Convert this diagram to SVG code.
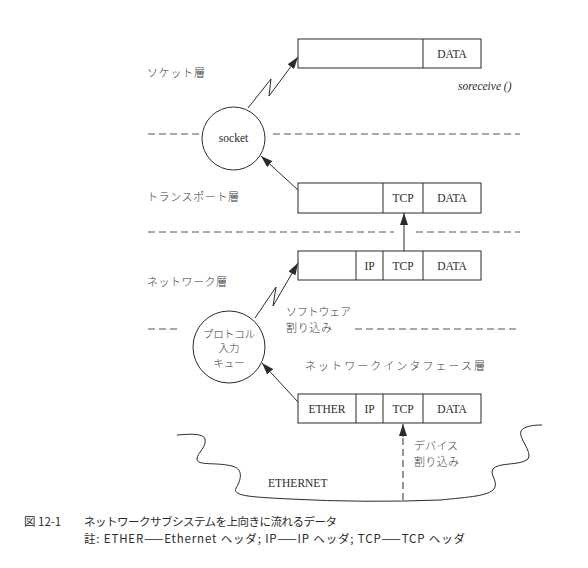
<svg xmlns="http://www.w3.org/2000/svg" width="588" height="568" viewBox="0 0 588 568">
<style>
.bx{fill:#fff;stroke:#2b2b2b;stroke-width:1}
.dv{stroke:#2b2b2b;stroke-width:1}
.cir{fill:#fff;stroke:#2b2b2b;stroke-width:1}
.ser{font-family:"Liberation Serif","DejaVu Serif",serif;font-size:11.5px;fill:#2b2b2b}
.mid{text-anchor:middle}
.jp{font-family:"Noto Sans CJK JP","Noto Sans",sans-serif;font-size:11px;fill:#3a3a3a;font-weight:300}
.jps{font-family:"Noto Sans CJK JP","Noto Sans",sans-serif;font-size:10.5px;fill:#3a3a3a;font-weight:300}
.cap{font-family:"Noto Sans CJK JP","Liberation Sans",sans-serif;font-size:11.5px;fill:#2b2b2b}
.dash{stroke:#555;stroke-width:1;stroke-dasharray:7 4;fill:none}
.ln{stroke:#2b2b2b;stroke-width:1;fill:none}
</style>
<defs>
<marker id="ah" viewBox="0 0 12 8" refX="12" refY="4" markerWidth="12" markerHeight="8" markerUnits="userSpaceOnUse" orient="auto">
<path d="M0,0 L12,4 L0,8 z" fill="#2b2b2b"/>
</marker>
</defs>
<rect width="588" height="568" fill="#fff"/>

<g id="layer-lines">
<line class="dash" x1="148" y1="134" x2="199" y2="134"/>
<line class="dash" x1="273" y1="134" x2="520" y2="134"/>
<line class="dash" x1="148" y1="232" x2="394" y2="232"/>
<line class="dash" x1="416" y1="232" x2="520" y2="232"/>
<line class="dash" x1="148" y1="329" x2="178" y2="329"/>
<line class="dash" x1="355" y1="329" x2="518" y2="329"/>
</g>

<g id="labels">
<text class="jp" x="147" y="77" textLength="58" lengthAdjust="spacing">ソケット層</text>
<text class="jp" x="147" y="201" textLength="92" lengthAdjust="spacing">トランスポート層</text>
<text class="jp" x="147" y="286" textLength="80" lengthAdjust="spacing">ネットワーク層</text>
<text class="jp" x="286" y="316" textLength="65" lengthAdjust="spacing">ソフトウェア</text>
<text class="jp" x="286" y="332" textLength="46" lengthAdjust="spacing">割り込み</text>
<text class="jp" x="305" y="370" textLength="180" lengthAdjust="spacing">ネットワークインタフェース層</text>
<text class="jp" x="414" y="450" textLength="44" lengthAdjust="spacing">デバイス</text>
<text class="jp" x="414" y="466" textLength="45" lengthAdjust="spacing">割り込み</text>
<text class="ser" x="458" y="89.5" font-style="italic">soreceive ()</text>
</g>

<g id="box-socket">
<rect class="bx" x="298" y="39" width="183" height="29"/>
<line class="dv" x1="423" y1="39" x2="423" y2="68"/>
<text class="ser mid" x="452" y="58">DATA</text>
</g>

<g id="box-transport">
<rect class="bx" x="298" y="183" width="183" height="30"/>
<line class="dv" x1="383" y1="183" x2="383" y2="213"/>
<line class="dv" x1="423" y1="183" x2="423" y2="213"/>
<text class="ser mid" x="403" y="202">TCP</text>
<text class="ser mid" x="452" y="202">DATA</text>
</g>

<g id="box-network">
<rect class="bx" x="298" y="251" width="183" height="29"/>
<line class="dv" x1="356" y1="251" x2="356" y2="280"/>
<line class="dv" x1="383" y1="251" x2="383" y2="280"/>
<line class="dv" x1="423" y1="251" x2="423" y2="280"/>
<text class="ser mid" x="369.5" y="269.5">IP</text>
<text class="ser mid" x="403" y="269.5">TCP</text>
<text class="ser mid" x="452" y="269.5">DATA</text>
</g>

<g id="box-ether">
<rect class="bx" x="298" y="394" width="183" height="29"/>
<line class="dv" x1="356" y1="394" x2="356" y2="423"/>
<line class="dv" x1="383" y1="394" x2="383" y2="423"/>
<line class="dv" x1="423" y1="394" x2="423" y2="423"/>
<text class="ser mid" x="327" y="412.5">ETHER</text>
<text class="ser mid" x="369.5" y="412.5">IP</text>
<text class="ser mid" x="403" y="412.5">TCP</text>
<text class="ser mid" x="452" y="412.5">DATA</text>
</g>

<g id="socket">
<circle class="cir" cx="233.5" cy="138.5" r="31.5"/>
<text class="ser mid" x="233.5" y="141.5">socket</text>
</g>

<g id="protocol-queue">
<circle class="cir" cx="229" cy="347" r="36"/>
<text class="jps mid" x="229" y="337.5">プロトコル</text>
<text class="jps mid" x="229" y="352">入力</text>
<text class="jps mid" x="229" y="366.5">キュー</text>
</g>

<g id="ethernet">
<path class="ln" d="M177,435 C190,434 203,433 205,439 C207,447 197,453 197,459 C197,466 215,462 232,466 C245,469 240,482 236,488 C232,496 250,497 290,499 Q365,503 440,500 C470,497 488,496 494,489 C499,482 489,474 493,469 C498,462 520,466 528,459 C533,452 518,438 521,431 C524,426 534,425 542,425"/>
<text class="ser" x="268" y="487">ETHERNET</text>
</g>

<g id="connectors">
<polyline class="ln" points="248,108 271,79 269,96 298,57" marker-end="url(#ah)"/>
<line class="ln" x1="298" y1="190" x2="261" y2="156" marker-end="url(#ah)"/>
<line class="ln" x1="404" y1="251" x2="404" y2="213" marker-end="url(#ah)"/>
<polyline class="ln" points="255,318 276,287 273,306 298,263" marker-end="url(#ah)"/>
<line class="ln" x1="298" y1="402" x2="262" y2="363" marker-end="url(#ah)"/>
<line class="ln" x1="403" y1="500" x2="403" y2="436" stroke-dasharray="7 4"/>
<line class="ln" x1="403" y1="437" x2="403" y2="424" marker-end="url(#ah)"/>
</g>

<g id="caption">
<text class="cap" x="24" y="526">図 12-1</text>
<text class="cap" x="84" y="526" textLength="253" lengthAdjust="spacing">ネットワークサブシステムを上向きに流れるデータ</text>
<text class="cap" x="84" y="543" textLength="381" lengthAdjust="spacing">註: ETHER——Ethernet ヘッダ; IP——IP ヘッダ; TCP——TCP ヘッダ</text>
</g>
</svg>
